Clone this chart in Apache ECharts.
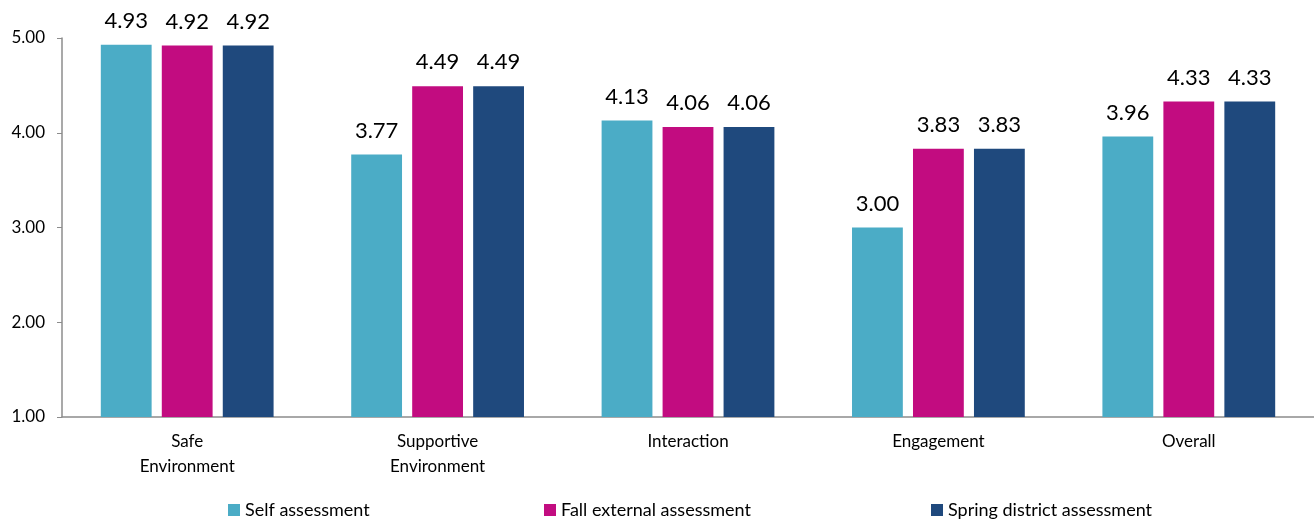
<!DOCTYPE html>
<html>
<head>
<meta charset="utf-8">
<script src="https://cdn.jsdelivr.net/npm/echarts@6/dist/echarts.min.js"></script>
<style>
html,body{margin:0;padding:0;background:#fff;}
#chart{width:1314px;height:520px;}
</style>
</head>
<body>
<div id="chart"></div>
<script>
const categories = ['Safe\nEnvironment', 'Supportive\nEnvironment', 'Interaction', 'Engagement', 'Overall'];
const seriesNames = ['Self assessment', 'Fall external assessment', 'Spring district assessment'];
const selfAssessment = [4.93, 3.77, 4.13, 3.00, 3.96];
const fallExternal = [4.92, 4.49, 4.06, 3.83, 4.33];
const springDistrict = [4.92, 4.49, 4.06, 3.83, 4.33];
const yTicks = [1, 2, 3, 4, 5];

const colors = ['#4BACC6', '#C20C80', '#1F497D'];
const font = 'Lato, "Open Sans", sans-serif';
const values = [selfAssessment, fallExternal, springDistrict];
const legendLefts = [228, 544, 931];

const chart = echarts.init(document.getElementById('chart'));
chart.setOption({
  animation: false,
  color: colors,
  grid: {left: 62, right: -3, top: 38, bottom: 103, containLabel: false},
  legend: seriesNames.map((n, i) => ({
    data: [n], left: legendLefts[i], top: 501, padding: 0,
    icon: 'rect', itemWidth: 12, itemHeight: 12,
    textStyle: {fontFamily: font, fontSize: 18, color: '#000'}
  })),
  xAxis: {
    type: 'category', data: categories,
    axisLine: {lineStyle: {color: '#8c8c8c', width: 1.5}},
    axisTick: {show: false},
    axisLabel: {fontFamily: font, fontSize: 17, color: '#000', margin: 12, lineHeight: 25}
  },
  yAxis: {
    type: 'value', min: yTicks[0], max: yTicks[yTicks.length - 1], interval: 1,
    axisLine: {show: true, lineStyle: {color: '#8c8c8c', width: 1.5}},
    axisTick: {show: true, length: 5, lineStyle: {color: '#8c8c8c'}},
    splitLine: {show: false},
    axisLabel: {fontFamily: font, fontSize: 17, color: '#000', margin: 17,
      formatter: v => v.toFixed(2)}
  },
  series: seriesNames.map((n, i) => ({
    name: n, type: 'bar', data: values[i],
    barGap: '20%', barCategoryGap: '31%',
    itemStyle: {color: colors[i]},
    label: {show: true, position: 'top', distance: 13, fontFamily: font, fontSize: 22, color: '#000',
      formatter: p => p.value.toFixed(2)}
  }))
});
</script>
</body>
</html>
